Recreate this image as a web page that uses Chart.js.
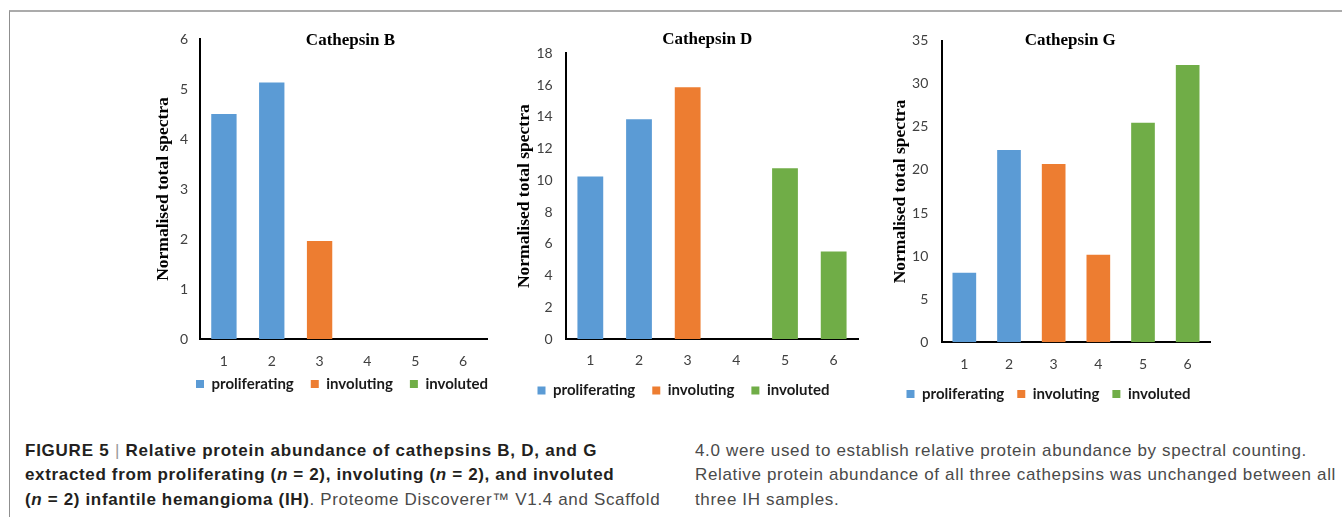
<!DOCTYPE html>
<html>
<head>
<meta charset="utf-8">
<script src="https://cdn.jsdelivr.net/npm/chart.js@4.4.1/dist/chart.umd.min.js"></script>
<style>
  html, body { margin: 0; padding: 0; background: #ffffff; }
  body { width: 1342px; height: 517px; position: relative; overflow: hidden; }
  .frame { position: absolute; left: 9px; top: 10px; width: 1400px; height: 600px;
           border-top: 2px solid #ababab; border-left: 1px solid #8f8f8f; }
  canvas { position: absolute; top: 0; }
  .cap { position: absolute; top: 438.7px; font-family: "Liberation Sans", Arial, sans-serif;
         font-size: 17px; line-height: 24.75px; white-space: nowrap; color: #4a4a4a; letter-spacing: 0.65px; }
  .cap b { color: #231f20; font-weight: bold; }
  .cap .sep { color: #9a9a9a; font-weight: normal; }
  .cap .l1 { letter-spacing: 0.75px; }
</style>
</head>
<body>
<div class="frame"></div>
<canvas id="chartB" width="382" height="402" style="left:140px;width:382px;height:402px;"></canvas>
<canvas id="chartD" width="394" height="408" style="left:500px;width:394px;height:408px;"></canvas>
<canvas id="chartG" width="377" height="412" style="left:870px;width:377px;height:412px;"></canvas>

<div class="cap" style="left:25px;">
  <div class="l1"><b>FIGURE 5</b> <span class="sep">|</span> <b>Relative protein abundance of cathepsins B, D, and G</b></div>
  <div><b>extracted from proliferating (<i>n</i> = 2), involuting (<i>n</i> = 2), and involuted</b></div>
  <div><b>(<i>n</i> = 2) infantile hemangioma (IH)</b>. Proteome Discoverer™ V1.4 and Scaffold</div>
</div>
<div class="cap" style="left:695px;">
  <div>4.0 were used to establish relative protein abundance by spectral counting.</div>
  <div>Relative protein abundance of all three cathepsins was unchanged between all</div>
  <div>three IH samples.</div>
</div>

<script>
// ---- data ----
const categories = ['1', '2', '3', '4', '5', '6'];
const sampleGroups = ['proliferating', 'proliferating', 'involuting', 'involuting', 'involuted', 'involuted'];
const seriesNames = ['proliferating', 'involuting', 'involuted'];
const cathepsinB = [4.5, 5.13, 1.96, 0, 0, 0];
const cathepsinD = [10.24, 13.85, 15.86, 0, 10.76, 5.52];
const cathepsinG = [8.08, 22.31, 20.69, 10.17, 25.49, 32.18];
const yAxisB = { max: 6, step: 1 };
const yAxisD = { max: 18, step: 2 };
const yAxisG = { max: 35, step: 5 };
const yAxisTitle = 'Normalised total spectra';

// ---- styling ----
const seriesColors = { proliferating: '#5B9BD5', involuting: '#ED7D31', involuted: '#70AD47' };
const serif = '"Liberation Serif", "Times New Roman", serif';
const sans = 'Lato, "Open Sans", sans-serif';

function makeChart(id, title, values, yAxis, p) {
  const datasets = seriesNames.map(name => ({
    label: name,
    data: values.map((v, i) => sampleGroups[i] === name ? v : null),
    backgroundColor: seriesColors[name],
    borderWidth: 0,
    grouped: false,
    categoryPercentage: 1,
    barPercentage: 0.53
  }));
  return new Chart(document.getElementById(id), {
    type: 'bar',
    data: { labels: categories, datasets },
    options: {
      responsive: false,
      animation: false,
      devicePixelRatio: 1,
      layout: { padding: { left: p.padL, right: 0, top: 0, bottom: p.padB } },
      plugins: {
        title: {
          display: true, text: title, color: '#000000',
          font: { family: serif, size: 17, weight: 'bold', lineHeight: 1.2 },
          padding: { top: p.tPadTop, bottom: p.tPadBottom }
        },
        legend: {
          position: 'bottom', align: 'start',
          title: { display: true, text: ' ', font: { size: 10, lineHeight: 1 },
                   padding: { top: 0, bottom: p.legendShift - 10 } },
          labels: { boxWidth: 8, boxHeight: 8, padding: p.legendPad, color: '#1a1a1a',
                    font: { family: sans, size: 15, weight: 'bold' } }
        },
        tooltip: { enabled: false }
      },
      scales: {
        x: {
          type: 'category',
          grid: { display: false, drawTicks: false },
          border: { display: true, color: '#000000', width: 2 },
          ticks: { color: '#404040', font: { family: sans, size: 14 }, padding: p.xTickPad, maxRotation: 0, autoSkip: false },
          afterFit(s) { s.height = 32; }
        },
        y: {
          min: 0, max: yAxis.max,
          grid: { display: false, drawTicks: false },
          border: { display: true, color: '#000000', width: 2 },
          ticks: { stepSize: yAxis.step, color: '#404040', font: { family: sans, size: 14 }, padding: p.yTickPad },
          title: { display: true, text: yAxisTitle, color: '#000000',
                   font: { family: serif, size: 17.5, weight: 'bold', lineHeight: 1.2 },
                   padding: { top: p.yTitlePad, bottom: 0 } },
          afterFit(s) { s.width = p.yWidth; }
        },
        ySpacer: {
          type: 'linear', position: 'right', display: true,
          grid: { display: false, drawTicks: false },
          border: { display: false },
          ticks: { display: false },
          afterFit(s) { s.width = p.spacer; }
        }
      }
    }
  });
}

makeChart('chartB', 'Cathepsin B', cathepsinB, yAxisB,
  { padL: 39, padB: 0.5, yWidth: 21, spacer: 35, tPadTop: 30.8, tPadBottom: -12.2, yTitlePad: -26.5,
    yTickPad: 12, xTickPad: 14.3, legendPad: 17, legendShift: -11.5 });
makeChart('chartD', 'Cathepsin D', cathepsinD, yAxisD,
  { padL: 20.5, padB: 0, yWidth: 45.5, spacer: 36, tPadTop: 29.8, tPadBottom: 3.1, yTitlePad: -7,
    yTickPad: 13.3, xTickPad: 13, legendPad: 17, legendShift: -5.1 });
makeChart('chartG', 'Cathepsin G', cathepsinG, yAxisG,
  { padL: 23.5, padB: 0.5, yWidth: 48.5, spacer: 37, tPadTop: 30.5, tPadBottom: -10.2, yTitlePad: -3.3,
    yTickPad: 13.7, xTickPad: 13.3, legendPad: 13, legendShift: -0.8 });
</script>
</body>
</html>
